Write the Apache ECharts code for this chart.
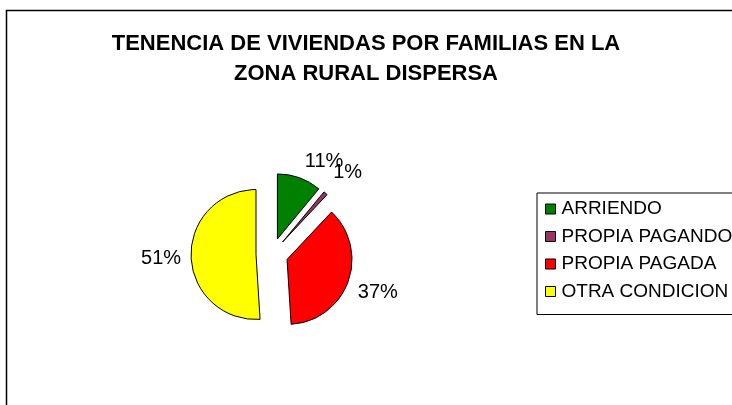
<!DOCTYPE html>
<html>
<head>
<meta charset="utf-8">
<script src="https://cdn.jsdelivr.net/npm/echarts@6/dist/echarts.min.js"></script>
<style>
  html, body { margin: 0; padding: 0; background: #fff; overflow: hidden; }
  #chart { width: 732px; height: 405px; }
</style>
</head>
<body>
<div id="chart"></div>
<script>
// datos del grafico
const categorias = ['ARRIENDO', 'PROPIA PAGANDO', 'PROPIA PAGADA', 'OTRA CONDICION'];
const porcentajes = [11, 1, 37, 51];
const colores = ['#008000', '#993366', '#ff0000', '#ffff00'];
const titulo = 'TENENCIA DE VIVIENDAS POR FAMILIAS EN LA\nZONA RURAL DISPERSA';

// pequeño ajuste vertical de las etiquetas (como en la hoja original)
const ajusteEtiqueta = [-10, -16, 9, 2];

const fuente = "'Liberation Sans', Arial, sans-serif";
const myChart = echarts.init(document.getElementById('chart'));

const option = {
  animation: false,
  backgroundColor: '#fff',
  textStyle: { fontFamily: fuente },
  title: {
    text: titulo,
    left: 'center',
    top: 29,
    padding: 0,
    textStyle: {
      fontFamily: fuente,
      fontSize: 22,
      fontWeight: 'bold',
      color: '#000',
      lineHeight: 30
    }
  },
  graphic: [
    {
      // marco del area del grafico
      type: 'rect',
      shape: { x: 6.5, y: 10.5, width: 1000, height: 1000 },
      style: { fill: 'none', stroke: '#000', lineWidth: 1.5 },
      silent: true,
      z: -1
    }
  ],
  legend: {
    orient: 'vertical',
    left: 537,
    top: 193,
    padding: [6, 10, 13, 8],
    borderColor: '#000',
    borderWidth: 1,
    backgroundColor: '#fff',
    icon: 'rect',
    itemWidth: 10,
    itemHeight: 10,
    itemGap: 7.5,
    itemStyle: { borderColor: '#000', borderWidth: 1 },
    selectedMode: false,
    data: categorias,
    textStyle: {
      fontFamily: fuente,
      fontSize: 19,
      color: '#000',
      lineHeight: 20,
      padding: [0, 0, 0, 1]
    }
  },
  series: [
    {
      type: 'pie',
      center: [272, 254],
      radius: 65,
      startAngle: 90,
      clockwise: true,
      selectedMode: 'multiple',
      selectedOffset: 16,
      avoidLabelOverlap: false,
      labelLayout: (params) => ({
        hideOverlap: false,
        dy: ajusteEtiqueta[params.dataIndex] || 0
      }),
      percentPrecision: 0,
      itemStyle: { borderColor: '#000', borderWidth: 1 },
      select: { itemStyle: { borderColor: '#000', borderWidth: 1 } },
      emphasis: { disabled: true },
      label: {
        show: true,
        position: 'outside',
        formatter: '{d}%',
        fontFamily: fuente,
        fontSize: 20,
        color: '#000',
        distanceToLabelLine: 3
      },
      labelLine: { show: false, length: 7, length2: 0 },
      data: categorias.map((nombre, i) => ({
        name: nombre,
        value: porcentajes[i],
        selected: true,
        itemStyle: { color: colores[i] }
      }))
    }
  ]
};

myChart.setOption(option);
</script>
</body>
</html>
